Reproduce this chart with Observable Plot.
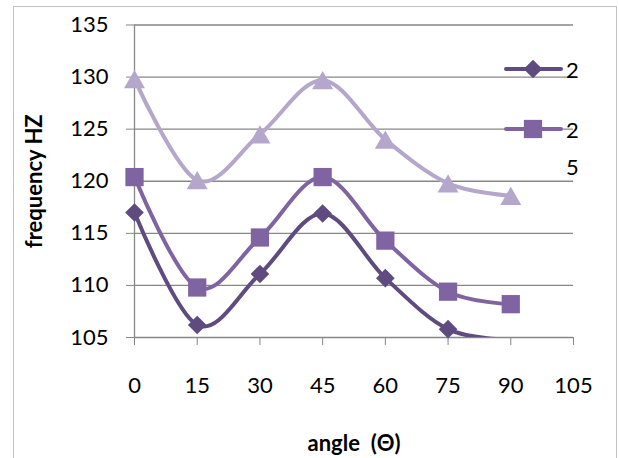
<!DOCTYPE html>
<html>
<head>
<meta charset="utf-8">
<script src="https://cdn.jsdelivr.net/npm/d3@7"></script>
<script src="https://cdn.jsdelivr.net/npm/@observablehq/plot@0.6"></script>
<style>
  html, body { margin: 0; padding: 0; background: #fff; }
  #chart { position: relative; width: 619px; height: 458px; overflow: hidden; font-family: Lato, "Open Sans", sans-serif; }
  #border { position: absolute; left: 13px; top: 6px; width: 604px; height: 480px; border: 1.5px solid #c3c3c3; box-sizing: border-box; pointer-events: none; }
  #chart svg.plot { position: absolute; left: 0; top: 0; }
  g[aria-label="y-axis tick"], g[aria-label="x-axis tick"] { stroke: #878787; }
  g[aria-label="y-axis label"] text, g[aria-label="x-axis label"] text { font-weight: bold; white-space: pre; }
  .legend-item { position: absolute; }
  .legend-text { position: absolute; font-size: 22px; line-height: 37px; width: 13px; word-break: break-all; color: #000; }
</style>
</head>
<body>
<div id="chart"><div id="border"></div></div>
<script>
// Angle of the specimen (degrees) and measured frequency (Hz) for each series
const angles = [0, 15, 30, 45, 60, 75, 90];
const freq2 = [117.0, 106.2, 111.1, 116.9, 110.7, 105.8, 104.8];
const freq25 = [120.4, 109.8, 114.6, 120.4, 114.3, 109.4, 108.2];
const freq3 = [129.8, 120.1, 124.5, 129.7, 124.0, 119.8, 118.6];
const seriesNames = ["2", "25", "3"];
const xTicks = [0, 15, 30, 45, 60, 75, 90, 105];
const yTicks = [105, 110, 115, 120, 125, 130, 135];

// Drawing style for each series (line colour, marker)
const styles = [
  {color: "#5f4b80", symbol: "diamond2", r: 8.4, dy: 0},
  {color: "#8064a2", symbol: "square", r: 10.3, dy: 0},
  {color: "#b5a7cb", symbol: "triangle", r: 7.8, dy: 3}
];

const seriesValues = [freq2, freq25, freq3];
const yDomain = [105, 135];
const rows = seriesValues.map((vals, s) =>
  angles.map((a, i) => ({series: seriesNames[s], angle: a, freq: vals[i]})));

const marks = [
  Plot.gridY(yTicks, {stroke: "#878787", strokeOpacity: 1, strokeWidth: 1.3}),
  Plot.ruleX([0], {stroke: "#878787", strokeWidth: 1.3}),
  Plot.axisY({ticks: yTicks, tickSize: 8, tickPadding: 18, fontSize: 22, fill: "#000",
    label: "frequency HZ", labelAnchor: "center", labelArrow: "none", labelOffset: 108}),
  Plot.axisX({ticks: xTicks, tickSize: 8, tickPadding: 32, fontSize: 22, fill: "#000",
    label: "angle  (Θ)", labelAnchor: "center", labelArrow: "none", labelOffset: 113})
];

rows.forEach((data, s) => {
  const st = styles[s];
  marks.push(Plot.line(data, {x: "angle", y: "freq", stroke: st.color, strokeWidth: 4,
    curve: "cardinal", tension: 0, clip: true}));
  marks.push(Plot.dot(data.filter(d => d.freq >= yDomain[0] && d.freq <= yDomain[1]),
    {x: "angle", y: "freq", symbol: st.symbol, r: st.r, dy: st.dy, fill: st.color, stroke: "none"}));
});

const chart = Plot.plot({
  width: 619,
  height: 458,
  marginLeft: 134,
  marginRight: 46,
  marginTop: 24.5,
  marginBottom: 121,
  style: {fontFamily: "Lato, 'Open Sans', sans-serif", fontSize: "22px", color: "#000", background: "transparent"},
  x: {domain: [0, 105], label: null},
  y: {domain: yDomain, label: null},
  marks
});
chart.classList.add("plot");
const host = document.getElementById("chart");
host.insertBefore(chart, host.firstChild);

// Legend for the first two series, drawn at the right edge of the plot area
const legendRows = [{series: 0, cy: 69}, {series: 1, cy: 129}];
legendRows.forEach(({series, cy}) => {
  const st = styles[series];
  const svg = d3.select(host).append("svg")
    .attr("class", "legend-item")
    .attr("width", 70).attr("height", 30)
    .style("left", "500px").style("top", (cy - 15) + "px");
  svg.append("line").attr("x1", 6).attr("x2", 61).attr("y1", 15).attr("y2", 15)
    .attr("stroke", st.color).attr("stroke-width", 4).attr("stroke-linecap", "round");
  const sym = {diamond2: d3.symbolDiamond2, square: d3.symbolSquare, triangle: d3.symbolTriangle}[st.symbol];
  svg.append("path").attr("d", d3.symbol(sym, Math.PI * st.r * st.r)())
    .attr("transform", `translate(33,${15 + st.dy})`).attr("fill", st.color);
  d3.select(host).append("div").attr("class", "legend-text")
    .style("left", "566px").style("top", (cy - 18.5) + "px")
    .text(seriesNames[series]);
});
</script>
</body>
</html>
